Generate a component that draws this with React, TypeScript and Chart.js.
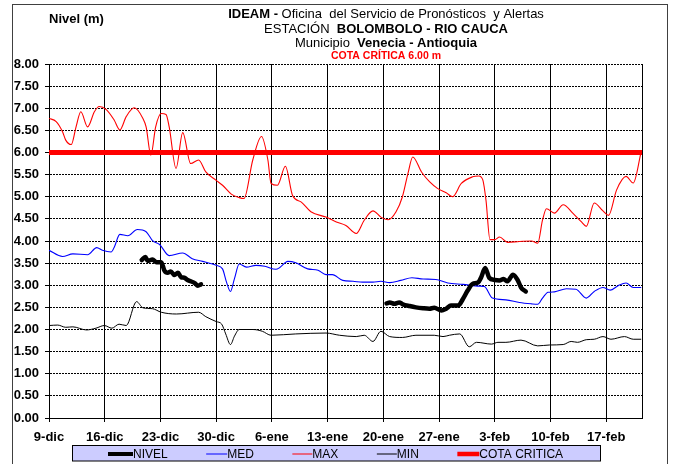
import React, { useEffect, useRef } from 'react';
import { Chart, registerables } from 'chart.js';

Chart.register(...registerables);

const FONT = "'Liberation Sans', Arial, sans-serif";

// ---- axis labels ----
const xLabels = ['9-dic', '16-dic', '23-dic', '30-dic', '6-ene', '13-ene', '20-ene', '27-ene', '3-feb', '10-feb', '17-feb'];
const xMaxDay = 74.5; // days after 9-dic at the right edge of the plot
const yMin = 0;
const yMax = 8;
const yStep = 0.5;

// ---- series (day offset from 9-dic, value in m) ----
const maxDays = [0, 0.9, 1.7, 2.1, 2.8, 3.4, 4.0, 4.85, 5.7, 6.3, 7.2, 8.2, 8.9, 9.7, 10.7, 11.8, 12.2, 12.8, 13.4, 14.1, 14.7, 15.1, 15.96, 16.8, 17.8, 18.8, 19.7, 21.0, 21.8, 22.9, 23.9, 24.5, 25.6, 26.7, 27.5, 27.9, 28.7, 29.7, 30.6, 31.7, 32.9, 34.8, 36.1, 37.3, 38.6, 39.6, 40.7, 41.7, 42.6, 43.6, 44.4, 45.1, 45.7, 46.8, 47.8, 48.8, 49.9, 50.7, 51.8, 53.2, 54.0, 54.5, 54.9, 55.4, 56.0, 56.6, 57.6, 59.1, 60.6, 61.4, 62.0, 62.5, 63.5, 64.6, 65.8, 66.9, 67.5, 68.5, 69.6, 70.3, 71.3, 72.5, 73.4, 74.4];
const maxValues = [6.77, 6.70, 6.47, 6.28, 6.18, 6.58, 6.92, 6.58, 6.92, 7.04, 6.97, 6.73, 6.51, 6.81, 7.01, 6.77, 6.58, 5.94, 6.58, 6.88, 6.86, 6.58, 5.64, 6.45, 5.75, 5.83, 5.56, 5.37, 5.26, 5.06, 4.98, 4.96, 5.83, 6.36, 5.83, 5.30, 5.26, 5.69, 5.03, 4.88, 4.66, 4.54, 4.43, 4.35, 4.17, 4.47, 4.68, 4.54, 4.48, 4.66, 5.00, 5.53, 5.90, 5.56, 5.34, 5.19, 5.09, 5.00, 5.30, 5.45, 5.47, 5.38, 4.92, 4.03, 4.03, 4.09, 3.97, 3.99, 4.00, 3.95, 4.47, 4.73, 4.63, 4.82, 4.63, 4.43, 4.33, 4.86, 4.68, 4.58, 5.15, 5.46, 5.31, 6.02];

const medDays = [0, 1.7, 3.0, 4.85, 6.0, 6.7, 7.8, 8.2, 8.9, 9.9, 11.1, 12.2, 13.0, 13.9, 15.1, 16.8, 18.0, 19.3, 21.0, 21.8, 22.3, 22.8, 23.3, 23.9, 24.8, 26.0, 27.1, 28.5, 29.0, 30.0, 31.0, 32.5, 33.8, 34.8, 35.6, 36.9, 38.2, 39.4, 40.7, 41.7, 42.8, 44.2, 45.6, 47.0, 48.6, 50.1, 52.0, 54.1, 54.7, 55.7, 57.4, 59.1, 60.6, 61.4, 62.0, 62.7, 63.5, 65.0, 66.2, 67.5, 68.5, 69.6, 70.5, 71.5, 72.5, 73.4, 74.4];
const medValues = [3.79, 3.65, 3.71, 3.69, 3.85, 3.79, 3.75, 3.86, 4.15, 4.12, 4.26, 4.21, 4.01, 3.92, 3.67, 3.73, 3.60, 3.54, 3.45, 3.37, 3.07, 2.86, 3.15, 3.48, 3.41, 3.45, 3.43, 3.36, 3.40, 3.54, 3.51, 3.37, 3.34, 3.24, 3.24, 3.11, 3.09, 3.07, 3.07, 3.09, 3.06, 3.11, 3.17, 3.14, 3.13, 3.05, 3.02, 2.98, 2.97, 2.71, 2.67, 2.61, 2.58, 2.57, 2.71, 2.84, 2.85, 2.92, 2.91, 2.71, 2.86, 2.95, 2.89, 2.99, 3.05, 2.95, 2.95];

const minDays = [0, 1.1, 2.1, 3.0, 4.7, 5.9, 6.95, 7.9, 8.8, 9.7, 11.0, 11.8, 13.0, 14.1, 16.0, 18.8, 19.7, 21.0, 21.7, 22.2, 22.8, 23.3, 23.9, 25.6, 26.8, 27.9, 31.0, 34.8, 36.5, 38.6, 39.6, 40.7, 41.7, 42.8, 44.4, 46.1, 48.4, 49.5, 50.3, 51.6, 52.8, 53.7, 55.6, 56.4, 57.4, 59.3, 61.4, 62.9, 64.6, 65.6, 66.4, 67.5, 68.5, 69.6, 70.6, 72.3, 73.4, 74.4];
const minValues = [2.09, 2.10, 2.05, 2.06, 1.99, 2.03, 2.09, 2.03, 2.12, 2.09, 2.63, 2.49, 2.47, 2.39, 2.35, 2.39, 2.29, 2.18, 2.12, 1.90, 1.66, 1.85, 2.00, 2.00, 1.96, 1.87, 1.90, 1.92, 1.87, 1.84, 1.87, 1.73, 1.96, 1.84, 1.82, 1.87, 1.87, 1.84, 1.87, 1.90, 1.61, 1.71, 1.67, 1.71, 1.71, 1.76, 1.63, 1.65, 1.66, 1.73, 1.71, 1.77, 1.78, 1.84, 1.78, 1.84, 1.78, 1.78];

const nivelDays = [11.65, 12.1, 12.4, 13.0, 13.5, 14.1, 14.5, 14.9, 15.3, 15.75, 16.2, 16.6, 17.0, 17.4, 17.8, 18.3, 18.7, 19.1, 30, 42.4, 42.8, 43.4, 44.0, 44.45, 45.3, 46.1, 47.0, 47.8, 48.4, 49.3, 49.9, 50.5, 51.4, 52.0, 52.6, 53.2, 53.9, 54.3, 54.8, 55.3, 56.0, 56.6, 57.1, 57.6, 58.3, 58.9, 59.3, 59.9];
const nivelValues = [3.57, 3.64, 3.55, 3.58, 3.52, 3.52, 3.33, 3.28, 3.31, 3.23, 3.28, 3.18, 3.17, 3.12, 3.09, 3.05, 2.99, 3.02, null, 2.59, 2.61, 2.58, 2.61, 2.57, 2.53, 2.50, 2.48, 2.47, 2.49, 2.43, 2.47, 2.54, 2.54, 2.69, 2.88, 3.03, 3.06, 3.18, 3.39, 3.17, 3.12, 3.11, 3.14, 3.09, 3.24, 3.11, 2.95, 2.86];

const cotaCritica = 6.0;

// ---- texts ----
const yAxisTitle = 'Nivel (m)';
const titleLines: { text: string; bold: boolean }[][] = [
  [{ text: 'IDEAM - ', bold: true }, { text: 'Oficina  del Servicio de Pronósticos  y Alertas', bold: false }],
  [{ text: 'ESTACIÓN  ', bold: false }, { text: 'BOLOMBOLO - RIO CAUCA', bold: true }],
  [{ text: 'Municipio  ', bold: false }, { text: 'Venecia - Antioquia', bold: true }],
];
const subtitle = 'COTA CRÍTICA 6.00 m';
const seriesNames = ['NIVEL', 'MED', 'MAX', 'MIN', 'COTA CRITICA'];

const pts = (xs: number[], ys: (number | null)[]) => xs.map((x, i) => ({ x, y: ys[i] }));

const decorPlugin = {
  id: 'decor',
  beforeDraw(chart: any) {
    const ctx = chart.ctx;
    ctx.save();
    ctx.fillStyle = '#ffffff';
    ctx.fillRect(0, 0, chart.width, chart.height);
    ctx.strokeStyle = '#404040';
    ctx.lineWidth = 1;
    ctx.strokeRect(12.5, 4.5, 655, 480);
    ctx.restore();
  },
  beforeDatasetsDraw(chart: any) {
    const { ctx, chartArea } = chart;
    ctx.save();
    ctx.strokeStyle = '#000';
    ctx.lineWidth = 1;
    const x = Math.round(chartArea.right) + 0.5;
    ctx.beginPath();
    ctx.moveTo(x, chartArea.top);
    ctx.lineTo(x, chartArea.bottom);
    ctx.stroke();
    ctx.restore();
  },
  afterDraw(chart: any) {
    const ctx = chart.ctx;
    ctx.save();
    ctx.textBaseline = 'middle';
    ctx.textAlign = 'left';
    // y-axis title
    ctx.fillStyle = '#000';
    ctx.font = `bold 13px ${FONT}`;
    ctx.fillText(yAxisTitle, 49, 19);
    // title lines
    const cx = 386;
    const ys = [14, 29.5, 43.5];
    titleLines.forEach((segs, li) => {
      const widths = segs.map((s) => {
        ctx.font = `${s.bold ? 'bold ' : ''}13px ${FONT}`;
        return ctx.measureText(s.text).width;
      });
      const total = widths.reduce((a, b) => a + b, 0);
      let x = cx - total / 2;
      segs.forEach((s, i) => {
        ctx.font = `${s.bold ? 'bold ' : ''}13px ${FONT}`;
        ctx.fillText(s.text, x, ys[li]);
        x += widths[i];
      });
    });
    ctx.font = `bold 10.5px ${FONT}`;
    ctx.fillStyle = '#ff0000';
    ctx.textAlign = 'center';
    ctx.fillText(subtitle, cx, 56.5);

    // legend
    const bx = 72.5, by = 445.5, bw = 528, bh = 15.5;
    ctx.fillStyle = '#ccccff';
    ctx.fillRect(bx, by, bw, bh);
    ctx.strokeStyle = '#000';
    ctx.lineWidth = 1;
    ctx.strokeRect(bx, by, bw, bh);
    const lineLens = [25, 21, 20, 20, 22];
    const legendWidths = [4, 1, 1, 1, 4.5];
    let x = 108;
    const ly = 454;
    ctx.textAlign = 'left';
    ctx.font = `12px ${FONT}`;
    chart.data.datasets.forEach((ds: any, i: number) => {
      ctx.strokeStyle = ds.borderColor;
      ctx.lineWidth = legendWidths[i];
      ctx.lineCap = 'butt';
      ctx.beginPath();
      ctx.moveTo(x, ly);
      ctx.lineTo(x + lineLens[i], ly);
      ctx.stroke();
      x += lineLens[i];
      ctx.fillStyle = '#000';
      ctx.fillText(ds.label, x, ly + 0.5);
      x += ctx.measureText(ds.label).width + 38.5;
    });
    ctx.restore();
  },
};

export default function App() {
  const ref = useRef<HTMLCanvasElement | null>(null);
  useEffect(() => {
    if (!ref.current) return;
    const tickFont = { family: FONT, size: 13, weight: 'bold' as const };
    const chart = new Chart(ref.current, {
      type: 'line',
      data: {
        datasets: [
          { label: seriesNames[0], data: pts(nivelDays, nivelValues), borderColor: '#000000', borderWidth: 4.5, pointRadius: 0, cubicInterpolationMode: 'monotone', spanGaps: false, borderCapStyle: 'round', borderJoinStyle: 'round' },
          { label: seriesNames[1], data: pts(medDays, medValues), borderColor: '#0000ff', borderWidth: 1.1, pointRadius: 0, cubicInterpolationMode: 'monotone' },
          { label: seriesNames[2], data: pts(maxDays, maxValues), borderColor: '#ff0000', borderWidth: 1.1, pointRadius: 0, cubicInterpolationMode: 'monotone' },
          { label: seriesNames[3], data: pts(minDays, minValues), borderColor: '#000000', borderWidth: 1, pointRadius: 0, cubicInterpolationMode: 'monotone' },
          { label: seriesNames[4], data: pts([0, xMaxDay], [cotaCritica, cotaCritica]), borderColor: '#ff0000', borderWidth: 5, pointRadius: 0 },
        ] as any,
      },
      options: {
        responsive: false,
        animation: false,
        devicePixelRatio: 1,
        layout: { padding: { top: 64, right: 32, left: 0, bottom: 0 } },
        plugins: { legend: { display: false }, title: { display: false }, tooltip: { enabled: false } },
        scales: {
          x: {
            type: 'linear',
            min: 0,
            max: xMaxDay,
            afterBuildTicks: (s: any) => {
              s.ticks = xLabels.map((_, i) => ({ value: i * 7 }));
            },
            afterFit: (s: any) => {
              s.height = 46;
            },
            ticks: {
              autoSkip: false,
              maxRotation: 0,
              padding: 8,
              color: '#000',
              font: tickFont,
              callback: (v: any) => xLabels[Math.round(Number(v) / 7)] ?? '',
            },
            grid: { color: '#000', lineWidth: 1, tickLength: 4 },
            border: { display: true, color: '#000', width: 1 },
          },
          y: {
            min: yMin,
            max: yMax,
            afterFit: (s: any) => {
              s.width = 49;
            },
            ticks: {
              stepSize: yStep,
              padding: 6,
              color: '#000',
              font: tickFont,
              callback: (v: any) => Number(v).toFixed(2),
            },
            grid: { color: '#000', lineWidth: 1, tickLength: 4 },
            border: { display: true, color: '#000', width: 1, dash: [2, 1] },
          },
        },
      } as any,
      plugins: [decorPlugin],
    });
    return () => chart.destroy();
  }, []);
  return (
    <div style={{ position: 'fixed', left: 0, top: 0, width: 674, height: 464, background: '#fff' }}>
      <canvas ref={ref} width={674} height={464} style={{ display: 'block', width: 674, height: 464 }} />
    </div>
  );
}
